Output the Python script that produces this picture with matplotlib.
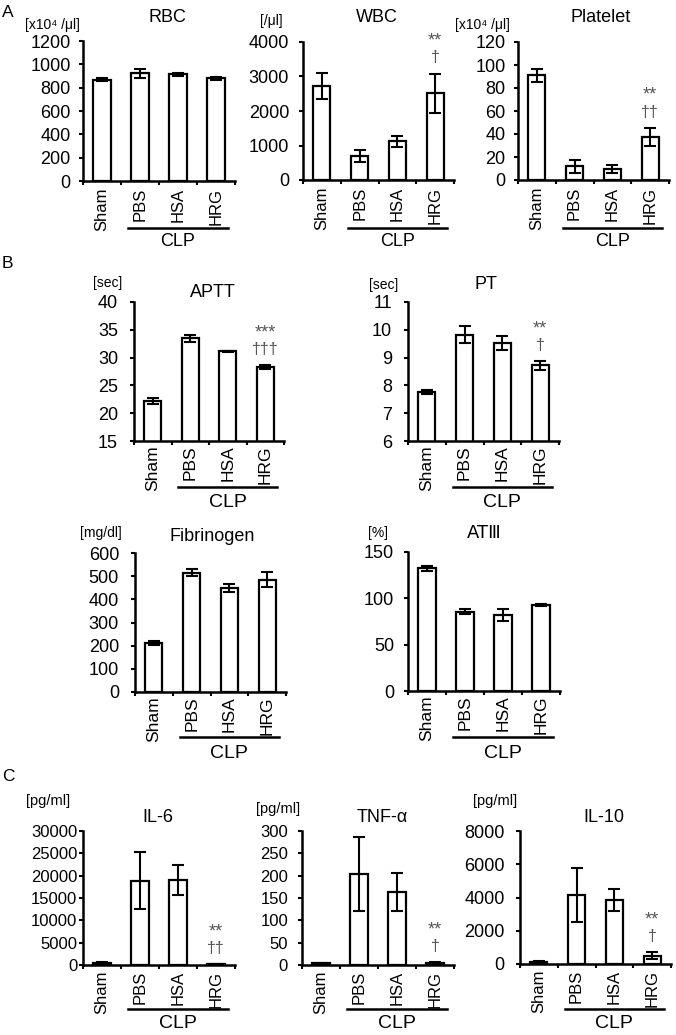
import matplotlib
matplotlib.use('Agg')
import matplotlib.pyplot as plt
from matplotlib.transforms import blended_transform_factory

plt.rcParams['font.family'] = ['Liberation Sans', 'DejaVu Sans']

W, H = 676, 1035

groups = ['Sham', 'PBS', 'HSA', 'HRG']

# means and SEM
rbc = [868, 922, 915, 880]
rbc_err = [15, 40, 15, 15]
wbc = [2730, 700, 1120, 2510]
wbc_err = [370, 175, 155, 575]
plt_ = [91, 12, 9.5, 37.5]
plt_err = [5.8, 5.5, 3.6, 8]

aptt = [22.2, 33.5, 31.1, 28.3]
aptt_err = [0.6, 0.65, 0.1, 0.35]
pt = [7.76, 9.83, 9.53, 8.72]
pt_err = [0.06, 0.31, 0.26, 0.16]
fib = [213, 515, 450, 485]
fib_err = [9, 14, 18, 33]
at3 = [132.5, 85.5, 82, 93]
at3_err = [2.7, 2.9, 6.3, 1]

il6 = [450, 18900, 19000, 150]
il6_err = [200, 6300, 3350, 80]
tnf = [3.5, 203, 163, 5.5]
tnf_err = [1, 83, 43, 1.5]
il10 = [120, 4140, 3840, 500]
il10_err = [40, 1630, 680, 200]

fig = plt.figure(figsize=(W / 100, H / 100), dpi=100)


def fy(y):
    return 1 - y / H


def panel(box, means, errs, ylim, yticks, title, tpos, unit, upos, mark=None,
          fs=13, ypad=6, xfs=12, xpad=4, line_y=0, clp_y=0, clp_fs=13, ufs=10,
          tfam=None):
    x0, y0, x1, y1 = box
    ax = fig.add_axes([x0 / W, 1 - y1 / H, (x1 - x0) / W, (y1 - y0) / H])
    x = list(range(len(groups)))
    ax.bar(x, means, width=0.45, color='white', edgecolor='black', linewidth=1.6, zorder=2)
    ax.errorbar(x, means, yerr=errs, fmt='none', ecolor='black', elinewidth=1.5,
                capsize=4.5, capthick=1.5, zorder=3)
    for s in ['top', 'right']:
        ax.spines[s].set_visible(False)
    for s in ['left', 'bottom']:
        ax.spines[s].set_linewidth(1.8)
    ax.set_yticks(yticks)
    ax.tick_params(axis='y', direction='out', length=3, width=1.5, labelsize=fs, pad=ypad)
    ax.set_xticks(x)
    ax.set_xticklabels(groups, rotation=90, fontsize=xfs)
    ax.set_xticks([i - 0.5 for i in range(len(groups) + 1)], minor=True)
    ax.tick_params(axis='x', which='major', length=0, pad=xpad)
    ax.tick_params(axis='x', which='minor', direction='out', length=3, width=1.5)

    trans = blended_transform_factory(ax.transData, fig.transFigure)
    ax.plot([0.68, 3.32], [fy(line_y)] * 2, transform=trans, color='black', lw=1.8, clip_on=False)
    ax.text(2, fy(clp_y), 'CLP', transform=trans, ha='center', va='baseline', fontsize=clp_fs)

    if mark:
        stars, dag = mark
        top = means[3] + errs[3]
        ax.annotate(dag, xy=(3, top), xytext=(0, 8), textcoords='offset points',
                    ha='center', va='baseline', fontsize=11.5, color='#555555')
        ax.annotate(stars, xy=(3, top), xytext=(0, 20), textcoords='offset points',
                    ha='center', va='baseline', fontsize=13, color='#555555')

    ax.set_xlim(-0.5, 3.5)
    ax.set_ylim(*ylim)

    fig.text(tpos[0] / W, fy(tpos[1]), title, ha='center', va='baseline', fontsize=13,
             family=tfam or ['Liberation Sans', 'DejaVu Sans'])
    fig.text(upos[0] / W, fy(upos[1]), unit, ha='right', va='baseline', fontsize=ufs)
    return ax


# A
rowA = dict(fs=13, xfs=12, xpad=5, line_y=228, clp_y=246, clp_fs=13)
panel((83, 41, 235, 181), rbc, rbc_err, (0, 1200), range(0, 1201, 200),
      'RBC', (167, 22), '[x10\u2074 /\u03bcl]', (80, 29), ypad=6, **rowA)
panel((303, 42, 454, 180), wbc, wbc_err, (0, 4000), range(0, 4001, 1000),
      'WBC', (377, 22), '[/\u03bcl]', (283, 25), mark=('**', '\u2020'), ypad=7, **rowA)
panel((518, 42, 669, 180), plt_, plt_err, (0, 120), range(0, 121, 20),
      'Platelet', (601, 22), '[x10\u2074 /\u03bcl]', (510, 29), mark=('**', '\u2020\u2020'), ypad=6, **rowA)

# B
rowB1 = dict(fs=13, xfs=12.5, xpad=3, line_y=487, clp_y=507, clp_fs=14)
panel((134, 302, 284, 441), aptt, aptt_err, (15, 40), range(15, 41, 5),
      'APTT', (213, 297), '[sec]', (122, 287), mark=('***', '\u2020\u2020\u2020'), ypad=8.5, **rowB1)
panel((408, 302, 559, 441), pt, pt_err, (6, 11), range(6, 12),
      'PT', (486, 289), '[sec]', (398, 289), mark=('**', '\u2020'), ypad=8.4, **rowB1)
rowB2 = dict(fs=13, xfs=12.5, xpad=3, line_y=737, clp_y=758, clp_fs=14)
panel((135, 553, 286, 692), fib, fib_err, (0, 600), range(0, 601, 100),
      'Fibrinogen', (212, 541), '[mg/dl]', (122, 537), ypad=8.5, **rowB2)
panel((408, 552, 560, 691), at3, at3_err, (0, 150), range(0, 151, 50),
      'AT\u2162', (484, 538), '[%]', (388, 537), ypad=7,
      tfam=['DejaVu Sans'], **rowB2)

# C
rowC = dict(xfs=12, xpad=4, line_y=1009, clp_y=1028, clp_fs=14, ufs=10.5)
panel((83, 831, 235, 965), il6, il6_err, (0, 30000), range(0, 30001, 5000),
      'IL-6', (158, 822), '[pg/ml]', (70, 805), mark=('**', '\u2020\u2020'), fs=12, ypad=1, **rowC)
panel((302, 831, 454, 965), tnf, tnf_err, (0, 300), range(0, 301, 50),
      'TNF-\u03b1', (382, 822), '[pg/ml]', (300, 813), mark=('**', '\u2020'), fs=12, ypad=7, **rowC)
panel((520, 831, 671, 964), il10, il10_err, (0, 8000), range(0, 8001, 2000),
      'IL-10', (604, 822), '[pg/ml]', (517, 805), mark=('**', '\u2020'), fs=13, ypad=8, **rowC)

for letter, yb in [('A', 17), ('B', 268), ('C', 781)]:
    fig.text(2 / W, fy(yb), letter, fontsize=12.5, va='baseline')

fig.savefig('out.png', dpi=100)
